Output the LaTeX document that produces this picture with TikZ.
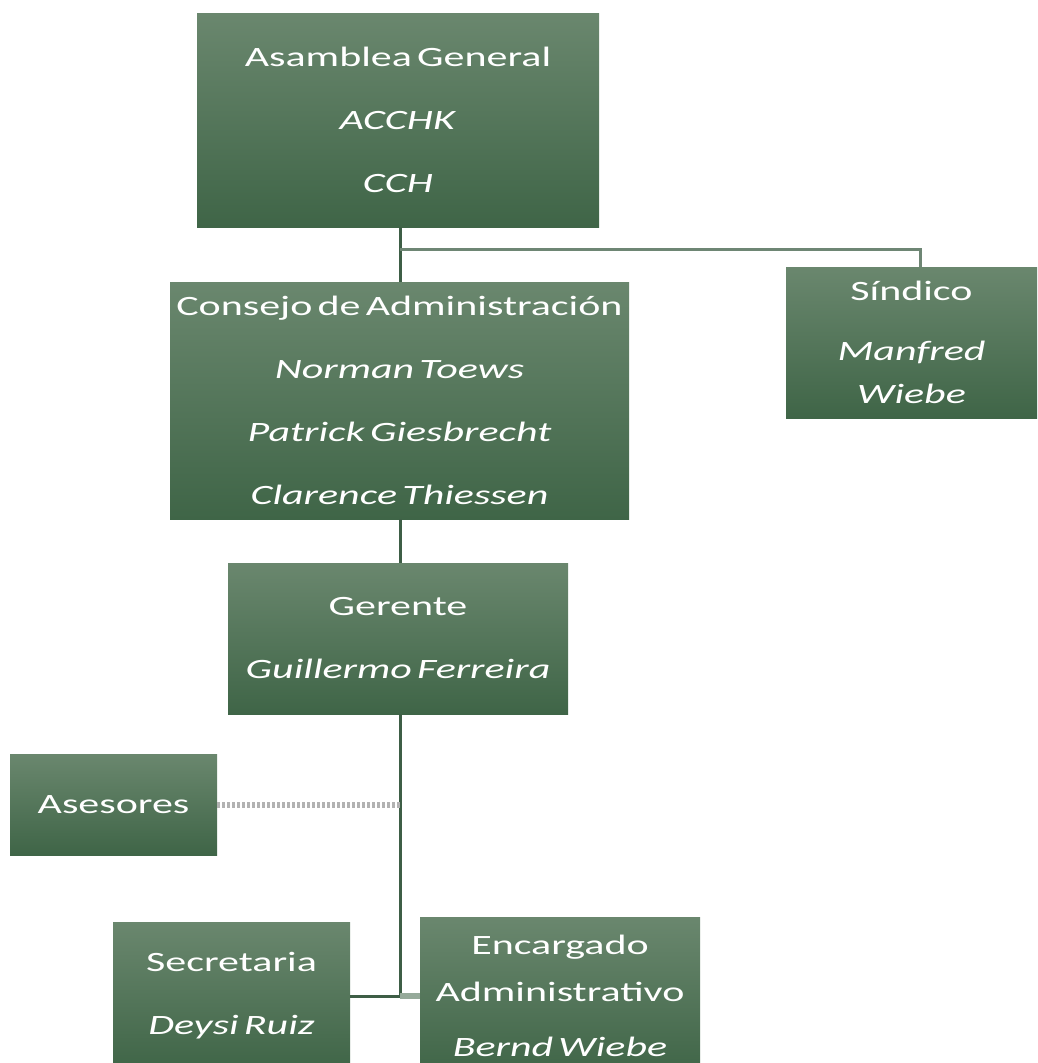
\documentclass[tikz,border=0pt]{standalone}
\usepackage{fontspec}
\setmainfont[FakeStretch=1.5,WordSpace=0.55]{Carlito}
\usepackage{tikz}
\usetikzlibrary{positioning}
\definecolor{boxtop}{RGB}{106,135,110}
\definecolor{boxbot}{RGB}{63,101,71}
\definecolor{linedark}{RGB}{62,94,70}
\definecolor{linelight}{RGB}{150,170,154}
\definecolor{dotgray}{RGB}{178,178,178}

\begin{document}
\begin{tikzpicture}[x=1pt,y=-1pt]
		\tikzstyle{box} = [rectangle, top color=boxtop, bottom color=boxbot, text=white, align=center, inner sep=0pt, font=\fontsize{28}{63}\selectfont]
		\tikzstyle{line} = [linedark, line width=3pt]
		\clip (0,0) rectangle (1037,1063);
		\node (asamblea) [box, minimum width=402, minimum height=214] at (398,120) {Asamblea General\\\textit{ACCHK}\\\textit{CCH}};
		\node (consejo) [box, minimum width=459, minimum height=237] at (399.5,400.5) {Consejo de Administración\\\textit{Norman Toews}\\\textit{Patrick Giesbrecht}\\\textit{Clarence Thiessen}};
		\node (sindico) [box, minimum width=251, minimum height=151] at (911.5,342.5) {Síndico\\[-3pt]\textit{Manfred}\\[-20pt]\textit{Wiebe}};
		\node (gerente) [box, minimum width=340, minimum height=151] at (398,638.5) {Gerente\\\textit{Guillermo Ferreira}};
		\node (asesores) [box, minimum width=207, minimum height=101] at (113.5,804.5) {Asesores};
		\node (secretaria) [box, minimum width=237, minimum height=148] at (231.5,996) {Secretaria\\\textit{Deysi Ruiz}};
		\node (encargado) [box, minimum width=280, minimum height=158] at (560,996) {Encargado\\[-16pt]Administrativo\\[-8pt]\textit{Bernd Wiebe}};
		\coordinate (trunk) at (400,0);
		\coordinate (sindtop) at (920,0);
		% connectors
		\draw [line] (asamblea.south -| trunk) -- (consejo.north -| trunk);
		\draw [line, color=linedark!75] (asamblea.south -| trunk) ++(0,22) -| (sindico.north -| sindtop);
		\draw [line] (consejo.south -| trunk) -- (gerente.north -| trunk);
		\draw [line] (gerente.south -| trunk) -- (secretaria.east -| trunk);
		\draw [dotgray, line width=6pt, dash pattern=on 3pt off 2pt] (asesores.east) -- (asesores.east -| trunk);
		\draw [line] (secretaria.east) -- (secretaria.east -| trunk);
		\draw [linelight, line width=6pt] (encargado.west -| trunk) -- (encargado.west);
	\end{tikzpicture}
\end{document}
